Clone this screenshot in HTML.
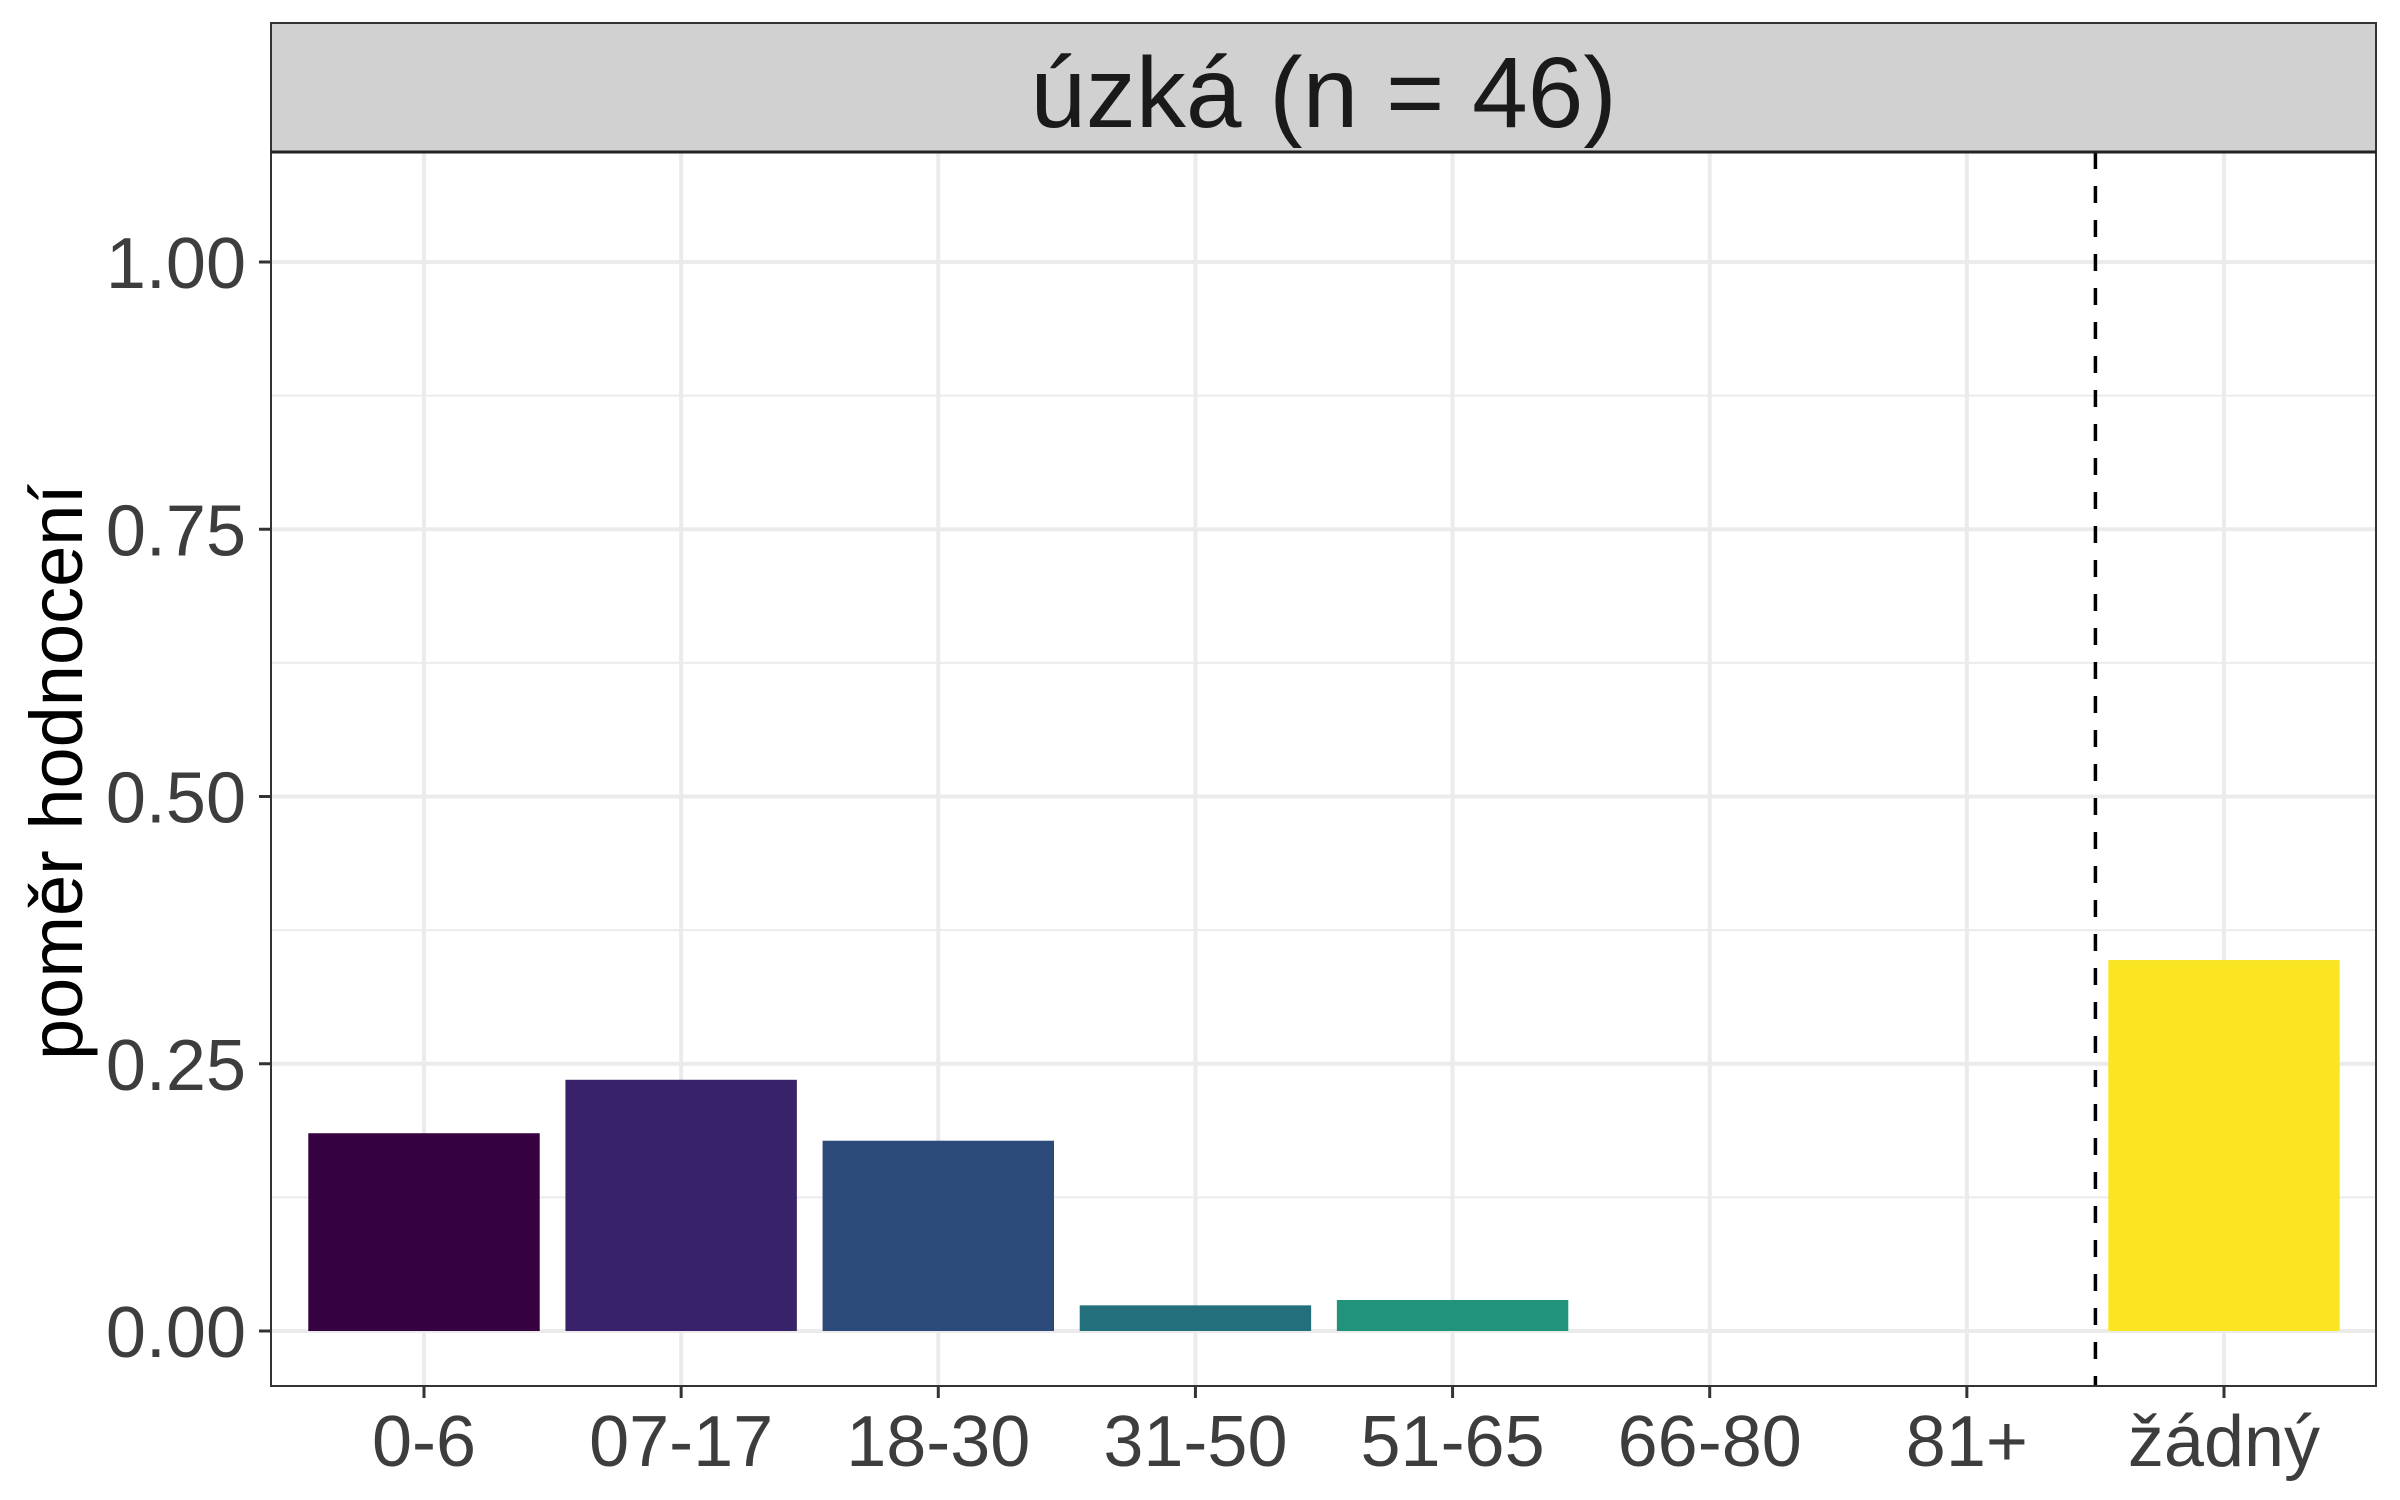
<!DOCTYPE html>
<html><head><meta charset="utf-8"><style>html,body{margin:0;padding:0;background:#fff}svg{display:block}</style></head>
<body>
<svg id="chart" width="2400" height="1500" xmlns="http://www.w3.org/2000/svg" font-family="'Liberation Sans', Arial, sans-serif"></svg>
<script>
const categories = ["0-6","07-17","18-30","31-50","51-65","66-80","81+","žádný"];
const values = [0.185, 0.235, 0.178, 0.024, 0.029, 0, 0, 0.347];
const colors = ["#35023f","#38226a","#2c4a7a","#236f7c","#21937a","#4ac16d","#9fda3a","#fbe422"];
const yTicks = [0, 0.25, 0.5, 0.75, 1.0];
const yTickLabels = ["0.00","0.25","0.50","0.75","1.00"];
const yMinor = [0.125, 0.375, 0.625, 0.875];
const dividerPos = 6.5;

const svg = document.getElementById('chart');
const NS = 'http://www.w3.org/2000/svg';
const L = 271, R = 2376, T = 152, B = 1386, stripTop = 23;
const x0 = 424, step = (2224 - 424) / 7;
const xs = i => x0 + i * step;
const y0 = 1331, yUnit = 1069;
const ys = v => y0 - v * yUnit;
function mk(tag, attrs, parent) {
  const e = document.createElementNS(NS, tag);
  for (const k in attrs) e.setAttribute(k, attrs[k]);
  (parent || svg).appendChild(e);
  return e;
}
yMinor.forEach(v => {
  const l = mk('line', {x1: L, x2: R, y1: ys(v), y2: ys(v), stroke: '#ebebeb', 'stroke-width': 2});
  
  
});
yTicks.forEach(v => {
  const l = mk('line', {x1: L, x2: R, y1: ys(v), y2: ys(v), stroke: '#ebebeb', 'stroke-width': 4});
  
  
});
categories.forEach((c, i) => {
  const l = mk('line', {x1: xs(i), x2: xs(i), y1: T, y2: B, stroke: '#ebebeb', 'stroke-width': 4});
  
  
});
const bw = step * 0.9;
values.forEach((v, i) => {
  if (v <= 0) return;
  const r = mk('rect', {x: xs(i) - bw / 2, y: ys(v), width: bw, height: ys(0) - ys(v), fill: colors[i]});
  
  
});
const dl = mk('line', {x1: xs(dividerPos), x2: xs(dividerPos), y1: T, y2: B, stroke: '#000', 'stroke-width': 3.5, 'stroke-dasharray': '17 17'});


const pb = mk('rect', {x: L, y: T, width: R - L, height: B - T, fill: 'none', stroke: '#333', 'stroke-width': 2});


const st = mk('rect', {x: L, y: stripTop, width: R - L, height: T - stripTop, fill: '#d1d1d1', stroke: '#333', 'stroke-width': 2});


const sl = mk('line', {x1: L, x2: R, y1: T, y2: T, stroke: '#222', 'stroke-width': 3});


const stx = mk('text', {x: (L + R) / 2, y: 127, 'text-anchor': 'middle', 'font-size': 100, fill: '#1a1a1a'});
stx.textContent = 'úzká (n = 46)';


yTicks.forEach((v, i) => {
  const t = mk('line', {x1: 259, x2: L, y1: ys(v), y2: ys(v), stroke: '#333', 'stroke-width': 3});
  
  
  const tx = mk('text', {x: 246, y: ys(v) + 26, 'text-anchor': 'end', 'font-size': 72, fill: '#3d3d3d'});
  tx.textContent = yTickLabels[i];
  
  
});
categories.forEach((c, i) => {
  const t = mk('line', {x1: xs(i), x2: xs(i), y1: B, y2: B + 12, stroke: '#333', 'stroke-width': 3});
  
  
  const tx = mk('text', {x: xs(i), y: 1466, 'text-anchor': 'middle', 'font-size': 72, fill: '#3d3d3d'});
  tx.textContent = c;
  
  
});
const yt = mk('text', {x: 0, y: 0, transform: 'translate(82,772) rotate(-90)', 'text-anchor': 'middle', 'font-size': 74, fill: '#000'});
yt.textContent = 'poměr hodnocení';


</script>
</body></html>
